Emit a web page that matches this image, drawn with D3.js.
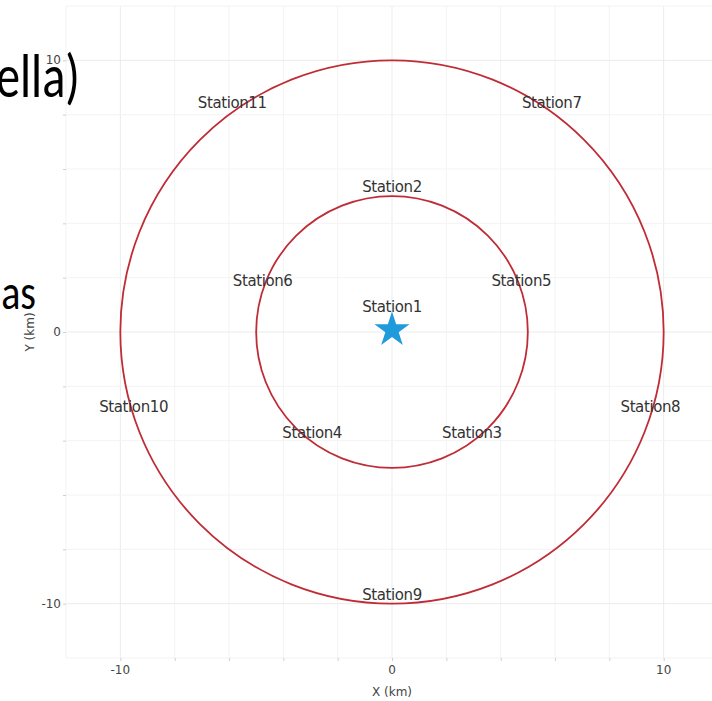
<!DOCTYPE html>
<html>
<head>
<meta charset="utf-8">
<script src="https://cdn.jsdelivr.net/npm/d3@7"></script>
<style>
  html, body { margin: 0; padding: 0; background: #fff; }
  svg { display: block; }
</style>
</head>
<body>
<svg id="chart" width="712" height="701"></svg>
<script>
// Station layout (km from the central station)
const stationNames = ["Station1", "Station2", "Station3", "Station4", "Station5", "Station6",
                      "Station7", "Station8", "Station9", "Station10", "Station11"];
const stationX = [0, 0, 2.94, -2.94, 4.76, -4.76, 5.88, 9.51, 0, -9.51, -5.88];
const stationY = [0, 5, -4.05, -4.05, 1.55, 1.55, 8.09, -3.09, -10, -3.09, 8.09];

// Coverage rings around Station1 (km)
const ringRadii = [5, 10];

// Axes
const gridValues = [-12, -10, -8, -6, -4, -2, 0, 2, 4, 6, 8, 10, 12];
const tickValues = [-10, 0, 10];
const tickLabels = ["-10", "0", "10"];
const xTitle = "X (km)";
const yTitle = "Y (km)";

// Slide text around the figure
const slideLines = ["ella)", "as"];

const svg = d3.select("#chart");
const W = 712, H = 701;
svg.append("rect").attr("width", W).attr("height", H).attr("fill", "#fff");

const x = d3.scaleLinear().domain([-12, 12]).range([66, 718]);
const y = d3.scaleLinear().domain([-12, 12]).range([658, 6]);

// grid
const grid = svg.append("g").attr("class", "grid");
grid.selectAll("line.gx").data(gridValues).join("line")
  .attr("x1", d => x(d)).attr("x2", d => x(d))
  .attr("y1", y(12)).attr("y2", y(-12))
  .attr("stroke", d => tickValues.includes(d) ? "#ebebeb" : "#f3f3f3").attr("stroke-width", 1);
grid.selectAll("line.gy").data(gridValues).join("line")
  .attr("y1", d => y(d)).attr("y2", d => y(d))
  .attr("x1", x(-12)).attr("x2", x(12))
  .attr("stroke", d => tickValues.includes(d) ? "#ebebeb" : "#f3f3f3").attr("stroke-width", 1);

// small tick marks on the frame edges
const xAxis = d3.axisBottom(x).tickValues(gridValues.filter(d => d > -12 && d < 12)).tickSize(3).tickFormat("");
const yAxis = d3.axisLeft(y).tickValues(gridValues.filter(d => d > -12 && d < 12)).tickSize(3).tickFormat("");
const gx = svg.append("g").attr("transform", `translate(0,${y(-12)})`).call(xAxis);
const gy = svg.append("g").attr("transform", `translate(${x(-12)},0)`).call(yAxis);
[gx, gy].forEach(g => {
  g.select(".domain").remove();
  g.selectAll(".tick line").attr("stroke", "#cfcfcf");
});

// tick labels
const labelFont = "'DejaVu Sans', Verdana, sans-serif";
svg.append("g").selectAll("text").data(tickValues).join("text")
  .attr("x", d => x(d)).attr("y", y(-12) + 16)
  .attr("text-anchor", "middle")
  .attr("font-family", labelFont).attr("font-size", 12).attr("fill", "#444")
  .text((d, i) => tickLabels[i]);
svg.append("g").selectAll("text").data(tickValues).join("text")
  .attr("x", x(-12) - 5).attr("y", d => y(d) + 4)
  .attr("text-anchor", "end")
  .attr("font-family", labelFont).attr("font-size", 12).attr("fill", "#444")
  .text((d, i) => tickLabels[i]);

svg.append("text")
  .attr("x", x(0)).attr("y", 696)
  .attr("text-anchor", "middle")
  .attr("font-family", labelFont).attr("font-size", 12).attr("fill", "#444")
  .text(xTitle);
svg.append("text")
  .attr("transform", `translate(34,${y(0)}) rotate(-90)`)
  .attr("text-anchor", "middle")
  .attr("font-family", labelFont).attr("font-size", 12).attr("fill", "#444")
  .text(yTitle);

// rings
svg.append("g").selectAll("circle").data(ringRadii).join("circle")
  .attr("cx", x(0)).attr("cy", y(0))
  .attr("r", d => x(d) - x(0))
  .attr("fill", "none")
  .attr("stroke", "#bf2c36")
  .attr("stroke-width", 1.8);

// central station marker
const star = d3.symbol().type(d3.symbolStar).size(380);
svg.append("path")
  .attr("d", star())
  .attr("transform", `translate(${x(stationX[0])},${y(stationY[0]) - 2})`)
  .attr("fill", "#1f9bdb");

// station labels
const stations = stationNames.map((n, i) => ({ name: n, x: stationX[i], y: stationY[i] }));
svg.append("g").selectAll("text").data(stations).join("text")
  .attr("x", d => x(d.x))
  .attr("y", (d, i) => y(d.y) - (i === 0 ? 20.5 : 4))
  .attr("text-anchor", "middle")
  .attr("font-family", labelFont).attr("font-size", 15).attr("fill", "#333")
  .attr("letter-spacing", -0.4)
  .text(d => d.name);

// slide text
const slide = svg.append("g").attr("font-family", "Carlito, 'Liberation Sans', sans-serif").attr("fill", "#000");
slide.append("text")
  .attr("transform", "translate(80,97) scale(0.78,1)")
  .attr("text-anchor", "end").attr("font-size", 62)
  .text(slideLines[0]);
slide.append("text")
  .attr("transform", "translate(36,309) scale(0.8,1)")
  .attr("text-anchor", "end").attr("font-size", 50)
  .text(slideLines[1]);
</script>
</body>
</html>
